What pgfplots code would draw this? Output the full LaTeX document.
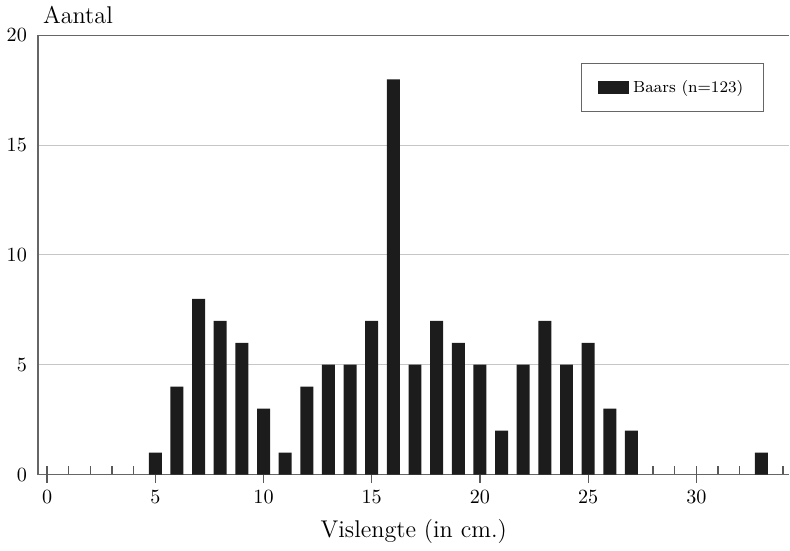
\documentclass[border=0pt]{standalone}
\usepackage{pgfplots}
\pgfplotsset{compat=1.18}
\definecolor{barfill}{RGB}{28,28,28}
\begin{document}
\begin{tikzpicture}
\begin{axis}[
  scale only axis,width=373pt,height=218pt,
  xmin=-0.42,xmax=34.3,ymin=0,ymax=20,
  axis x line*=bottom,axis y line*=left,
  axis line style={-,gray!80!black,line width=0.6pt},
  xtick={1,...,34},xticklabels={},
  tick align=inside,major tick length=4pt,
  tick style={gray!70!black,line width=0.6pt},
  extra x ticks={0,5,10,15,20,25,30},
  extra x tick labels={0,5,10,15,20,25,30},
  extra x tick style={tick align=center,major tick length=8pt,grid=none},
  ytick={0,5,10,15,20},
  ytick style={draw=none},
  yticklabel style={xshift=-2pt},
  ymajorgrids,grid style={gray!45,line width=0.5pt},
  ticklabel style={font=\normalsize},
  xlabel={Vislengte (in cm.)},
  xlabel style={font=\large,yshift=-1pt},
  ylabel={Aantal},
  ylabel style={font=\large,rotate=-90,at={(axis description cs:0,1)},anchor=south west,yshift=2pt,xshift=-1pt},
  legend style={font=\footnotesize,at={(0.966,0.936)},anchor=north east,draw=gray!80!black,
    inner xsep=8pt,inner ysep=6pt},
  legend image code/.code={\fill[barfill] (0cm,-0.12cm) rectangle (0.55cm,0.12cm);},
]
\addplot[ybar,bar width=0.6,fill=barfill,draw=none] coordinates {
  (5,1)(6,4)(7,8)(8,7)(9,6)(10,3)(11,1)(12,4)(13,5)(14,5)(15,7)(16,18)
  (17,5)(18,7)(19,6)(20,5)(21,2)(22,5)(23,7)(24,5)(25,6)(26,3)(27,2)(33,1)};
\legend{Baars (n=123)}
\draw[gray!80!black,line width=0.6pt] (axis cs:-0.42,20) -- (axis cs:34.3,20);
\end{axis}
\end{tikzpicture}
\end{document}
